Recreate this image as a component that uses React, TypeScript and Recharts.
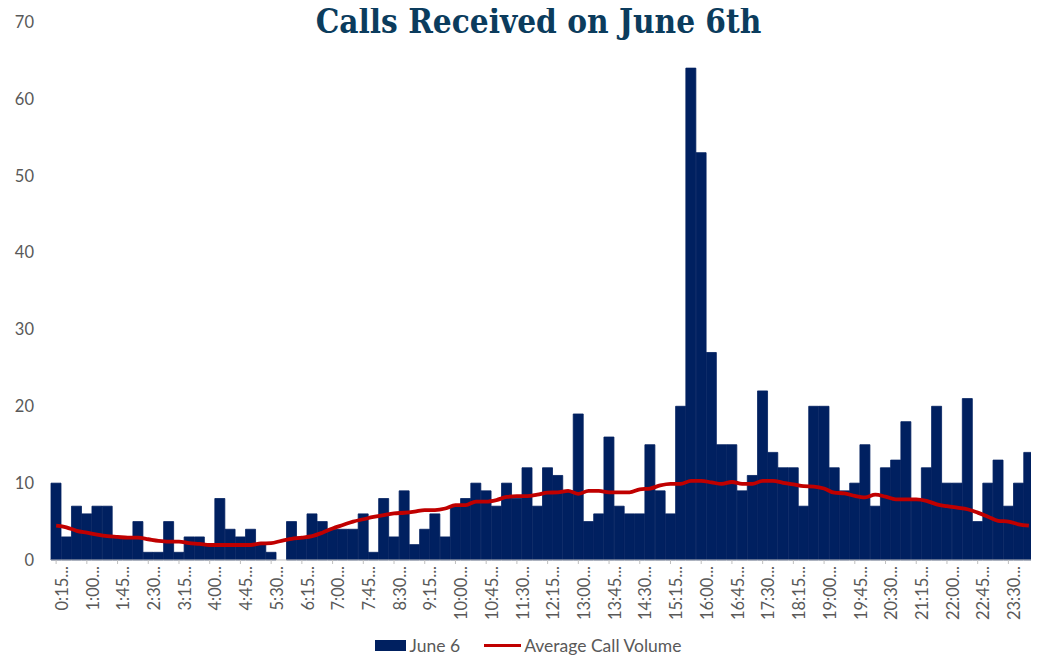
import React from "react";
import {
  ComposedChart,
  Bar,
  Line,
  XAxis,
  YAxis,
  Legend,
} from "recharts";

const times = [
  "0:15", "0:30", "0:45", "1:00", "1:15", "1:30", "1:45", "2:00",
  "2:15", "2:30", "2:45", "3:00", "3:15", "3:30", "3:45", "4:00",
  "4:15", "4:30", "4:45", "5:00", "5:15", "5:30", "5:45", "6:00",
  "6:15", "6:30", "6:45", "7:00", "7:15", "7:30", "7:45", "8:00",
  "8:15", "8:30", "8:45", "9:00", "9:15", "9:30", "9:45", "10:00",
  "10:15", "10:30", "10:45", "11:00", "11:15", "11:30", "11:45", "12:00",
  "12:15", "12:30", "12:45", "13:00", "13:15", "13:30", "13:45", "14:00",
  "14:15", "14:30", "14:45", "15:00", "15:15", "15:30", "15:45", "16:00",
  "16:15", "16:30", "16:45", "17:00", "17:15", "17:30", "17:45", "18:00",
  "18:15", "18:30", "18:45", "19:00", "19:15", "19:30", "19:45", "20:00",
  "20:15", "20:30", "20:45", "21:00", "21:15", "21:30", "21:45", "22:00",
  "22:15", "22:30", "22:45", "23:00", "23:15", "23:30", "23:45", "0:00",
];

const june6 = [
  10, 3, 7, 6, 7, 7, 3, 3, 5, 1, 1, 5, 1, 3, 3, 2, 8, 4, 3, 4, 2, 1, 0, 5,
  3, 6, 5, 4, 4, 4, 6, 1, 8, 3, 9, 2, 4, 6, 3, 7, 8, 10, 9, 7, 10, 8, 12, 7,
  12, 11, 9, 19, 5, 6, 16, 7, 6, 6, 15, 9, 6, 20, 64, 53, 27, 15, 15, 9, 11, 22, 14, 12,
  12, 7, 20, 20, 12, 9, 10, 15, 7, 12, 13, 18, 8, 12, 20, 10, 10, 21, 5, 10, 13, 7, 10, 14,
];

const averageVolume = [
  4.47, 4.25, 3.8, 3.55, 3.3, 3.1, 3.0, 2.9, 2.9, 2.7, 2.5, 2.4, 2.4, 2.2, 2.1, 1.95, 1.95, 1.95, 1.95, 1.95, 2.15, 2.2, 2.5, 2.75,
  2.9, 3.1, 3.55, 4.1, 4.55, 5.0, 5.3, 5.6, 5.85, 6.07, 6.15, 6.3, 6.5, 6.5, 6.7, 7.15, 7.15, 7.6, 7.6, 7.8, 8.2, 8.3, 8.3, 8.5,
  8.76, 8.8, 9.0, 8.6, 9.0, 9.0, 8.8, 8.8, 8.8, 9.2, 9.3, 9.7, 9.9, 9.9, 10.3, 10.3, 10.1, 9.9, 10.15, 9.9, 9.9, 10.3, 10.3, 10.05,
  9.85, 9.6, 9.55, 9.3, 8.76, 8.67, 8.33, 8.15, 8.5, 8.24, 7.9, 7.9, 7.9, 7.7, 7.24, 7.0, 6.8, 6.6, 6.16, 5.64, 5.1, 5.0, 4.64, 4.46,
];

const yTicks = [0, 10, 20, 30, 40, 50, 60, 70];

const data = times.map((t, i) => ({
  time: t,
  calls: june6[i],
  avg: averageVolume[i],
}));

const NAVY = "#002060";
const RED = "#c00000";
const GREY_TEXT = "#595959";
const FONT = "Lato, 'Open Sans', sans-serif";

function LegendContent() {
  return (
    <div
      style={{
        display: "flex",
        justifyContent: "center",
        alignItems: "center",
        fontFamily: FONT,
        fontSize: 17.5,
        color: GREY_TEXT,
        paddingLeft: 22,
        marginTop: -3,
      }}
    >
      <span style={{ display: "inline-block", width: 31, height: 11, background: NAVY, marginRight: 4 }} />
      <span style={{ marginRight: 24 }}>June 6</span>
      <span style={{ display: "inline-block", width: 37, height: 3.5, background: RED, marginRight: 3 }} />
      <span>Average Call Volume</span>
    </div>
  );
}

export default function App() {
  return (
    <div style={{ position: "relative", margin: -8, width: 1039, height: 668, background: "#fff" }}>
      <div
        style={{
          position: "absolute",
          top: 2,
          left: 0,
          width: 1077,
          textAlign: "center",
          fontFamily: "'DejaVu Serif Condensed', 'DejaVu Serif', serif",
          fontWeight: 700,
          fontSize: 33,
          color: "#0b3c5d",
          zIndex: 2,
        }}
      >
        Calls Received on June 6th
      </div>
      <ComposedChart
        width={1039}
        height={668}
        data={data}
        barCategoryGap={0}
        barGap={0}
        margin={{ top: 22, right: 5, left: 0, bottom: 0 }}
      >
        <XAxis
          dataKey="time"
          interval={2}
          height={78}
          tick={{ fill: GREY_TEXT, fontSize: 16.5, fontFamily: FONT }}
          angle={-90}
          textAnchor="end"
          tickFormatter={(v: string) => `${v}...`}
          stroke="#bfbfbf"
          tickSize={4}
        />
        <YAxis
          width={51}
          domain={[0, 70]}
          ticks={yTicks}
          axisLine={false}
          tickLine={false}
          tickMargin={11}
          tick={{ fill: GREY_TEXT, fontSize: 16.5, fontFamily: FONT }}
        />
        <Legend verticalAlign="bottom" height={30} content={<LegendContent />} />
        <Bar
          dataKey="calls"
          name="June 6"
          fill={NAVY}
          stroke={NAVY}
          strokeWidth={0.8}
          isAnimationActive={false}
        />
        <Line
          dataKey="avg"
          name="Average Call Volume"
          type="monotone"
          stroke={RED}
          strokeWidth={3.8}
          dot={false}
          activeDot={false}
          isAnimationActive={false}
        />
      </ComposedChart>
    </div>
  );
}
